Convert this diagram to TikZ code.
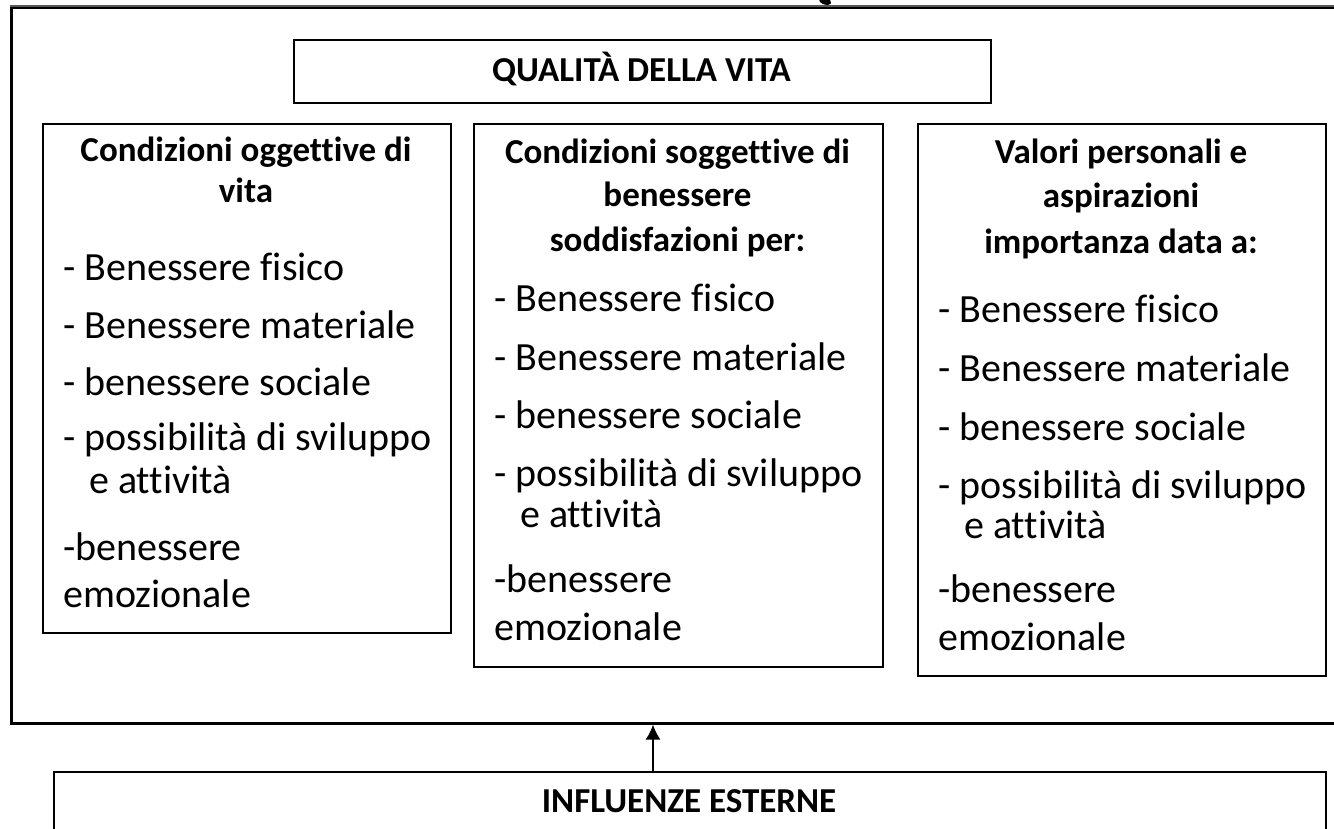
\documentclass[tikz,border=0pt]{standalone}
\usepackage{fontspec}
\setmainfont{Carlito}[Ligatures=NoCommon]
\usetikzlibrary{arrows.meta}
\newcommand{\itemfnt}{\fontsize{40}{48}\selectfont}
\newcommand{\headfnt}{\fontsize{35}{42}\selectfont\bfseries}
\begin{document}
\begin{tikzpicture}[x=1pt,y=-1pt,
  boxstyle/.style={draw=black, line width=2pt, rectangle, inner sep=0pt},
  itemtxt/.style={anchor=base west, font=\itemfnt, inner sep=0pt},
  headtxt/.style={anchor=base, font=\headfnt, inner sep=0pt}]
\useasboundingbox (0,0) rectangle (1334,829);
\clip (0,0) rectangle (1334,829);
% fragment of a letter at the top
\fill[black,rotate around={-20:(825,1)}] (825,1) ellipse (6.5pt and 3.5pt);
% outer frame
\node[boxstyle, line width=2.6pt, minimum width=1340pt, minimum height=716pt, anchor=north west] (outer) at (10,6) {};
\draw[line width=2.6pt, black!65] (outer.north west) -- (outer.north east);
% title
\node[boxstyle, minimum width=697pt, minimum height=63pt, anchor=north west] (title) at (293,39) {};
\node[headtxt] (titletxt) at (641.5,82) {QUALITÀ DELLA VITA};
% three boxes
\node[boxstyle, minimum width=408pt, minimum height=509pt, anchor=north west] (b1) at (42,123) {};
\node[boxstyle, minimum width=409pt, minimum height=543pt, anchor=north west] (b2) at (473,123) {};
\node[boxstyle, minimum width=408pt, minimum height=552pt, anchor=north west] (b3) at (917,123) {};
% box 1 text
\node[headtxt] (b1h1) at (246,162) {Condizioni oggettive di};
\node[headtxt] (b1h2) at (246,203) {vita};
\node[itemtxt] (b1i1) at (63,280) {- Benessere fisico};
\node[itemtxt] (b1i2) at (63,338) {- Benessere materiale};
\node[itemtxt] (b1i3) at (63,395) {- benessere sociale};
\node[itemtxt] (b1i4) at (63,450) {- possibilità di sviluppo};
\node[itemtxt] (b1i5) at (89,493) {e attività};
\node[itemtxt] (b1i6) at (63,560) {-benessere};
\node[itemtxt] (b1i7) at (63,607) {emozionale};
% box 2 text
\node[headtxt] (b2h1) at (677.5,164) {Condizioni soggettive di};
\node[headtxt] (b2h2) at (677.5,207) {benessere};
\node[headtxt] (b2h3) at (677.5,252) {soddisfazioni per:};
\node[itemtxt] (b2i1) at (494,312) {- Benessere fisico};
\node[itemtxt] (b2i2) at (494,370) {- Benessere materiale};
\node[itemtxt] (b2i3) at (494,428) {- benessere sociale};
\node[itemtxt] (b2i4) at (494,486) {- possibilità di sviluppo};
\node[itemtxt] (b2i5) at (520,527) {e attività};
\node[itemtxt] (b2i6) at (494,592) {-benessere};
\node[itemtxt] (b2i7) at (494,640) {emozionale};
% box 3 text
\node[headtxt] (b3h1) at (1121,164) {Valori personali e};
\node[headtxt] (b3h2) at (1121,208) {aspirazioni};
\node[headtxt] (b3h3) at (1121,254) {importanza data a:};
\node[itemtxt] (b3i1) at (938,323) {- Benessere fisico};
\node[itemtxt] (b3i2) at (938,381) {- Benessere materiale};
\node[itemtxt] (b3i3) at (938,440) {- benessere sociale};
\node[itemtxt] (b3i4) at (938,498) {- possibilità di sviluppo};
\node[itemtxt] (b3i5) at (964,538) {e attività};
\node[itemtxt] (b3i6) at (938,602) {-benessere};
\node[itemtxt] (b3i7) at (938,650) {emozionale};
% external influences
\node[boxstyle, minimum width=1272pt, minimum height=100pt, anchor=north west] (infl) at (53,771) {};
\node[headtxt] (infltxt) at (689,812) {INFLUENZE ESTERNE};
% arrow
\coordinate (arrowfoot) at (653,771);
\draw[line width=1.6pt, -{Latex[length=15pt,width=15pt]}] (arrowfoot) -- (arrowfoot |- outer.south);
\end{tikzpicture}
\end{document}
